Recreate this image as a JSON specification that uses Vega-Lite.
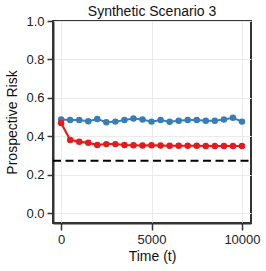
{
  "$schema": "https://vega.github.io/schema/vega-lite/v6.json",
  "width": 198,
  "height": 202,
  "autosize": {"type": "none"},
  "padding": {"left": 53, "top": 21, "right": 15, "bottom": 48},
  "background": "white",
  "title": {"text": "Synthetic Scenario 3", "font": "Liberation Sans", "fontSize": 14, "fontWeight": "normal", "color": "#111", "offset": -4},
  "config": {
    "font": "Liberation Sans",
    "view": {"stroke": "#333", "strokeWidth": 2},
    "axis": {
      "labelFont": "Liberation Sans", "labelFontSize": 13, "labelColor": "#222",
      "titleFont": "Liberation Sans", "titleFontSize": 14, "titleFontWeight": "normal", "titleColor": "#111",
      "domainColor": "#333", "domainWidth": 2, "tickColor": "#333", "tickWidth": 1.5, "tickSize": 6,
      "gridColor": "#ebebeb", "gridWidth": 1
    }
  },
  "datasets": {
    "risk": [
      {"series": "A", "t": 0, "risk": 0.488}, {"series": "A", "t": 500, "risk": 0.485}, {"series": "A", "t": 1000, "risk": 0.485},
      {"series": "A", "t": 1500, "risk": 0.479}, {"series": "A", "t": 2000, "risk": 0.490}, {"series": "A", "t": 2500, "risk": 0.474},
      {"series": "A", "t": 3000, "risk": 0.477}, {"series": "A", "t": 3500, "risk": 0.485}, {"series": "A", "t": 4000, "risk": 0.493},
      {"series": "A", "t": 4500, "risk": 0.488}, {"series": "A", "t": 5000, "risk": 0.477}, {"series": "A", "t": 5500, "risk": 0.485},
      {"series": "A", "t": 6000, "risk": 0.476}, {"series": "A", "t": 6500, "risk": 0.481}, {"series": "A", "t": 7000, "risk": 0.485},
      {"series": "A", "t": 7500, "risk": 0.485}, {"series": "A", "t": 8000, "risk": 0.481}, {"series": "A", "t": 8500, "risk": 0.481},
      {"series": "A", "t": 9000, "risk": 0.488}, {"series": "A", "t": 9500, "risk": 0.497}, {"series": "A", "t": 10000, "risk": 0.477},
      {"series": "B", "t": 0, "risk": 0.470, "lo": 0.455, "hi": 0.485}, {"series": "B", "t": 500, "risk": 0.382, "lo": 0.370, "hi": 0.396},
      {"series": "B", "t": 1000, "risk": 0.372, "lo": 0.364, "hi": 0.381}, {"series": "B", "t": 1500, "risk": 0.367, "lo": 0.361, "hi": 0.373},
      {"series": "B", "t": 2000, "risk": 0.356, "lo": 0.351, "hi": 0.362}, {"series": "B", "t": 2500, "risk": 0.360, "lo": 0.355, "hi": 0.365},
      {"series": "B", "t": 3000, "risk": 0.360, "lo": 0.355, "hi": 0.365}, {"series": "B", "t": 3500, "risk": 0.356, "lo": 0.352, "hi": 0.361},
      {"series": "B", "t": 4000, "risk": 0.354, "lo": 0.350, "hi": 0.358}, {"series": "B", "t": 4500, "risk": 0.353, "lo": 0.349, "hi": 0.357},
      {"series": "B", "t": 5000, "risk": 0.354, "lo": 0.350, "hi": 0.358}, {"series": "B", "t": 5500, "risk": 0.353, "lo": 0.349, "hi": 0.357},
      {"series": "B", "t": 6000, "risk": 0.351, "lo": 0.347, "hi": 0.355}, {"series": "B", "t": 6500, "risk": 0.351, "lo": 0.347, "hi": 0.355},
      {"series": "B", "t": 7000, "risk": 0.351, "lo": 0.347, "hi": 0.355}, {"series": "B", "t": 7500, "risk": 0.351, "lo": 0.347, "hi": 0.355},
      {"series": "B", "t": 8000, "risk": 0.350, "lo": 0.346, "hi": 0.354}, {"series": "B", "t": 8500, "risk": 0.350, "lo": 0.346, "hi": 0.354},
      {"series": "B", "t": 9000, "risk": 0.350, "lo": 0.346, "hi": 0.354}, {"series": "B", "t": 9500, "risk": 0.350, "lo": 0.346, "hi": 0.354},
      {"series": "B", "t": 10000, "risk": 0.350, "lo": 0.346, "hi": 0.354}
    ],
    "baseline": [{"level": 0.274}]
  },
  "encoding": {
    "x": {"field": "t", "type": "quantitative", "title": "Time (t)",
      "scale": {"domain": [-450, 10500], "nice": false, "zero": false},
      "axis": {"values": [0, 5000, 10000], "format": "d", "labelPadding": 3, "titlePadding": 3, "tickSize": 7}},
    "y": {"field": "risk", "type": "quantitative", "title": "Prospective Risk",
      "scale": {"domain": [-0.05, 1.0], "nice": false, "zero": false},
      "axis": {"values": [0, 0.2, 0.4, 0.6, 0.8, 1.0], "format": ".1f", "labelPadding": 3, "titlePadding": 6}}
  },
  "layer": [
    {
      "data": {"name": "risk"},
      "transform": [{"filter": "datum.series == 'B'"}],
      "mark": {"type": "area", "color": "#e41a1c", "opacity": 0.25},
      "encoding": {"y": {"field": "lo", "type": "quantitative"}, "y2": {"field": "hi"}}
    },
    {
      "data": {"name": "risk"},
      "mark": {"type": "line", "strokeWidth": 2},
      "encoding": {
        "color": {"field": "series", "type": "nominal", "scale": {"domain": ["A", "B"], "range": ["#377eb8", "#e41a1c"]}, "legend": null},
        "order": {"field": "t", "type": "quantitative"}
      }
    },
    {
      "data": {"name": "risk"},
      "mark": {"type": "point", "filled": true, "opacity": 1, "size": 42},
      "encoding": {
        "color": {"field": "series", "type": "nominal", "scale": {"domain": ["A", "B"], "range": ["#377eb8", "#e41a1c"]}, "legend": null}
      }
    },
    {
      "data": {"name": "baseline"},
      "mark": {"type": "rule", "color": "black", "strokeWidth": 2, "strokeDash": [8, 4.5]},
      "encoding": {"y": {"field": "level", "type": "quantitative"}, "x": {"value": 0}, "x2": {"value": 198}}
    }
  ]
}
